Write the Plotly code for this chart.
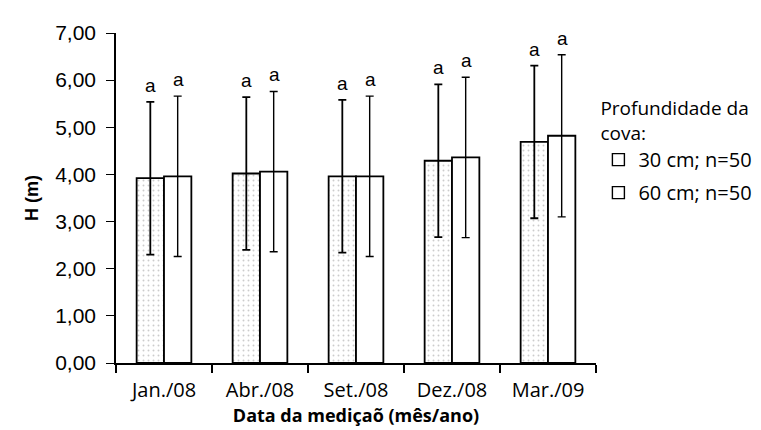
import plotly.graph_objects as go

categories = ["Jan./08", "Abr./08", "Set./08", "Dez./08", "Mar./09"]
h30 = [3.92, 4.02, 3.96, 4.29, 4.69]
sd30 = [1.62, 1.62, 1.62, 1.62, 1.62]
h60 = [3.96, 4.06, 3.96, 4.36, 4.82]
sd60 = [1.70, 1.70, 1.70, 1.70, 1.72]
letters30 = ["a", "a", "a", "a", "a"]
letters60 = ["a", "a", "a", "a", "a"]
names = ["30 cm; n=50", "60 cm; n=50"]

fig = go.Figure()
fig.add_trace(go.Bar(
    x=categories, y=h30, name=names[0], showlegend=False,
    error_y=dict(type="data", array=sd30, visible=True, color="black", thickness=1.8, width=4),
    marker=dict(color="white", line=dict(color="black", width=1.8),
                pattern=dict(shape=".", fgcolor="#9a9a9a", bgcolor="white", size=5, solidity=0.12)),
))
fig.add_trace(go.Bar(
    x=categories, y=h60, name=names[1], showlegend=False,
    error_y=dict(type="data", array=sd60, visible=True, color="black", thickness=1.4, width=4),
    marker=dict(color="white", line=dict(color="black", width=1.8)),
))
for i, nm in enumerate(names):
    fig.add_trace(go.Scatter(
        x=[None], y=[None], mode="markers", name=nm, legendgroup="g%d" % i,
        marker=dict(symbol="square-open", size=12, color="black", line=dict(width=1.4)),
    ))

annotations = []
for i, c in enumerate(categories):
    annotations.append(dict(x=c, y=h30[i] + sd30[i], text=letters30[i], showarrow=False,
                            xref="x", yref="y", xshift=-14, yanchor="bottom", yshift=4,
                            font=dict(family="Liberation Sans, Arial", size=19, color="black")))
    annotations.append(dict(x=c, y=h60[i] + sd60[i], text=letters60[i], showarrow=False,
                            xref="x", yref="y", xshift=14, yanchor="bottom", yshift=4,
                            font=dict(family="Liberation Sans, Arial", size=19, color="black")))

fig.update_layout(
    width=761, height=430,
    margin=dict(l=108, r=159, t=25, b=75),
    plot_bgcolor="white", paper_bgcolor="white",
    barmode="group", bargap=0.43, bargroupgap=0,
    separators=",.",
    annotations=annotations,
    legend=dict(
        x=1.005, y=0.825, xanchor="left", yanchor="top",
        title=dict(text="Profundidade da<br>cova:", font=dict(family="Open Sans", size=19, color="black")),
        font=dict(family="Open Sans", size=20, color="black"),
        tracegroupgap=4, bgcolor="rgba(0,0,0,0)",
    ),
    xaxis=dict(
        type="category", showline=True, linecolor="black", linewidth=1.6,
        ticks="outside", tickson="boundaries", ticklen=8, tickcolor="black", tickwidth=1.5,
        ticklabelstandoff=8,
        tickfont=dict(family="Open Sans", size=20, color="black"),
        title=dict(text="<b>Data da mediçaõ (mês/ano)</b>", standoff=0,
                   font=dict(family="Open Sans", size=18, color="black")),
        showgrid=False, zeroline=False, automargin=False,
    ),
    yaxis=dict(
        range=[0, 7], dtick=1, tickformat=".2f",
        showline=True, linecolor="black", linewidth=1.6,
        ticks="outside", ticklen=8, tickcolor="black", tickwidth=1.3,
        ticklabelstandoff=6,
        tickfont=dict(family="Liberation Sans, Arial", size=21, color="black"),
        title=dict(text="<b>H (m)</b>", standoff=12,
                   font=dict(family="Liberation Sans, Arial", size=18, color="black")),
        showgrid=False, zeroline=False, automargin=False,
    ),
)

fig.write_html("out.html")
